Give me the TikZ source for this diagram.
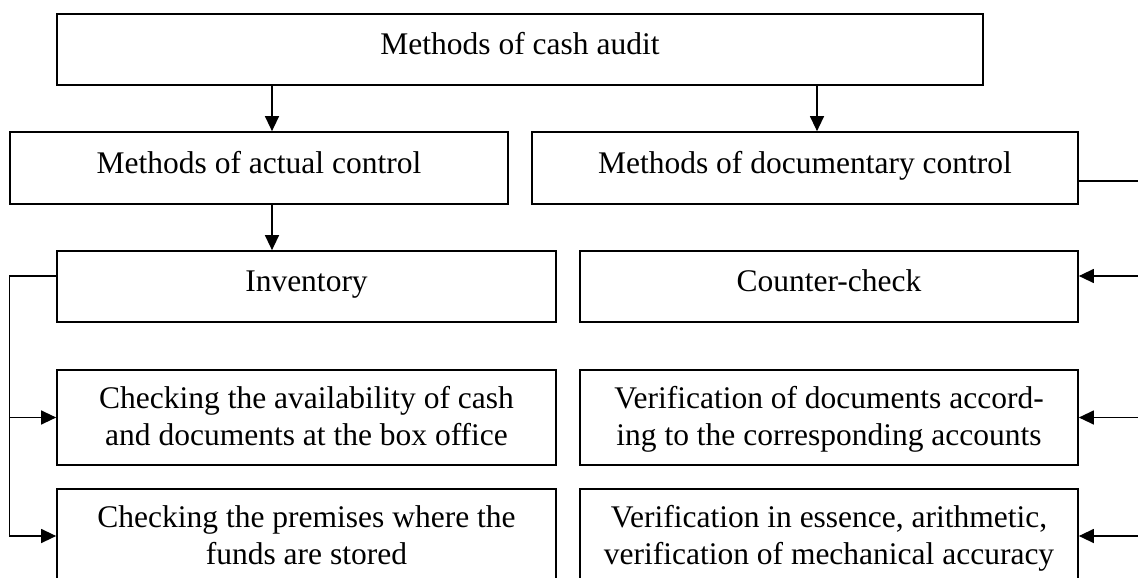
\documentclass[tikz,border=0pt]{standalone}
\usepackage{fontspec}
\setmainfont{Liberation Serif}
\usetikzlibrary{arrows.meta}
\begin{document}
\begin{tikzpicture}[x=1pt, y=-1pt, >={Triangle[length=15pt,width=14pt]},
  font=\fontsize{31.5}{37}\selectfont,
  box/.style={draw, line width=1.7pt, align=center, inner sep=0pt},
  one/.style={text height=23.5pt, text depth=13.5pt},
  two/.style={text height=65pt, text depth=9pt},
  link/.style={line width=1.3pt}]
\useasboundingbox (0,0) rectangle (1138,578);
\clip (0,0) rectangle (1138,578);
% --- top level ---
\node[box, one, minimum width=926pt, minimum height=71pt] (audit) at (520,49.5) {Methods of cash audit};
% --- second level: actual / documentary ---
\node[box, one, minimum width=498pt, minimum height=72pt] (act) at (259,168) {Methods of actual control};
\node[box, one, minimum width=546pt, minimum height=72pt] (doc) at (805,168) {Methods of documentary control};
\draw[link,->] ([xshift=13pt]act.north |- audit.south) -- ([xshift=13pt]act.north);
\draw[link,->] ([xshift=12pt]doc.north |- audit.south) -- ([xshift=12pt]doc.north);
% --- left column ---
\node[box, one, minimum width=499pt, minimum height=71pt] (inv) at (306.5,286.5) {Inventory};
\node[box, two, minimum width=499pt, minimum height=95pt] (cash) at (306.5,417.5)
 {Checking the availability of cash\\and documents at the box office};
\node[box, two, minimum width=499pt, minimum height=94pt] (prem) at (306.5,536)
 {Checking the premises where the\\funds are stored};
\draw[link,->] ([xshift=13pt]act.south) -- ([xshift=13pt]act.south |- inv.north);
\coordinate (invtap) at ([yshift=10.5pt]inv.west);
\coordinate (lbus) at (act.west |- invtap);
\draw[link] (invtap) -- (lbus) -- (lbus |- prem.west);
\draw[link,->] (lbus |- cash.west) -- (cash.west);
\draw[link,->] (lbus |- prem.west) -- (prem.west);
% --- right column ---
\node[box, one, minimum width=498pt, minimum height=71pt] (cnt) at (829,286.5) {Counter-check};
\node[box, two, minimum width=498pt, minimum height=95pt] (acc) at (829,417.5)
 {Verification of documents accord-\\ing to the corresponding accounts};
\node[box, two, minimum width=498pt, minimum height=94pt] (ess) at (829,536)
 {Verification in essence, arithmetic,\\verification of mechanical accuracy};
\coordinate (doctap) at ([yshift=-13pt]doc.east);
\coordinate (cnttap) at ([yshift=10.5pt]cnt.east);
\coordinate (rbus) at (1138,181);
\draw[link] (doctap) -- (rbus);
\draw[link,->] (rbus |- cnttap) -- (cnttap);
\draw[link,->] (rbus |- acc.east) -- (acc.east);
\draw[link,->] (rbus |- ess.east) -- (ess.east);
\end{tikzpicture}
\end{document}
